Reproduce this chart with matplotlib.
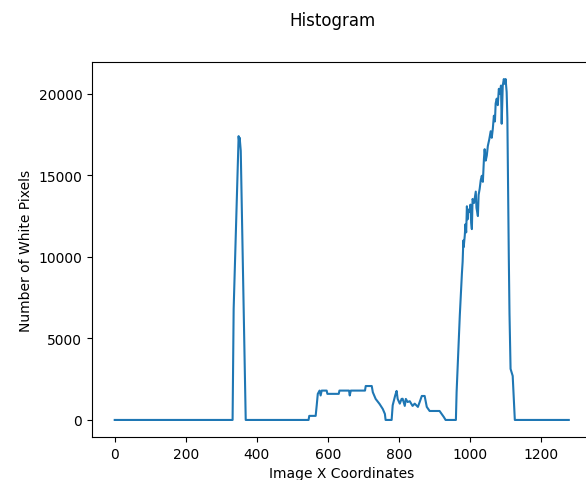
import matplotlib
matplotlib.use("Agg")
import matplotlib.pyplot as plt

# Histogram of white pixels per image column
x_coords = [0, 332, 335, 349, 351, 352, 355, 369,
            546, 548, 566, 569, 572, 577, 580, 583, 597, 599, 631, 633, 660, 662, 665,
            705, 707, 724, 727, 735, 746, 755, 761, 763, 780, 783, 790, 794, 797,
            803, 808, 811, 817, 820, 825, 831, 839, 845, 854, 859, 865, 873, 879,
            887, 915, 927, 932, 961,
            963, 972, 978, 980, 982, 983, 986, 988, 990, 992, 994, 996, 1000, 1002,
            1004, 1006, 1008, 1012, 1017, 1019, 1023, 1025, 1028, 1031, 1034, 1037,
            1040, 1042, 1045, 1048, 1051, 1055, 1059, 1062, 1065, 1068, 1071, 1073,
            1076, 1079, 1082, 1085, 1088, 1090, 1093, 1096, 1099, 1101, 1104, 1106,
            1110, 1112, 1115, 1121, 1127, 1279]
pixel_counts = [0, 0, 6800, 17400, 17000, 17300, 16500, 0,
                0, 250, 250, 900, 1600, 1800, 1500, 1800, 1800, 1600, 1600, 1800, 1800, 1500, 1800,
                1800, 2080, 2080, 1700, 1290, 980, 675, 370, 0, 0, 900, 1500, 1780, 1290,
                1000, 1290, 1300, 860, 1290, 1100, 1150, 860, 1000, 800, 1100, 1470, 1470, 800,
                550, 550, 180, 0, 0,
                1700, 6400, 9000, 9700, 11000, 10600, 11300, 12000, 11500, 13100, 12300, 12900, 12750, 13200,
                12100, 11700, 13550, 13300, 14000, 13000, 12500, 13800, 14170, 14700, 14970, 14600,
                16000, 16600, 15900, 16200, 16800, 17200, 17700, 17300, 17850, 18650, 18300, 19400,
                19700, 19300, 20300, 20000, 20500, 18160, 20500, 20900, 20600, 20900, 20100, 18500,
                10060, 6500, 3130, 2700, 0, 0]

fig = plt.figure(figsize=(5.86, 4.81), dpi=100)
ax = fig.add_axes([0.157, 0.0894, 0.853, 0.7796])
ax.plot(x_coords, pixel_counts)
ax.set_xlim(-64, 1344)
ax.set_ylim(-1045, 21945)
ax.set_xticks([0, 200, 400, 600, 800, 1000, 1200])
ax.set_yticks([0, 5000, 10000, 15000, 20000])
fig.suptitle('Histogram', x=0.568, y=0.975)
ax.set_xlabel('Image X Coordinates')
ax.set_ylabel('Number of White Pixels')

fig.savefig("out.png", dpi=100)
